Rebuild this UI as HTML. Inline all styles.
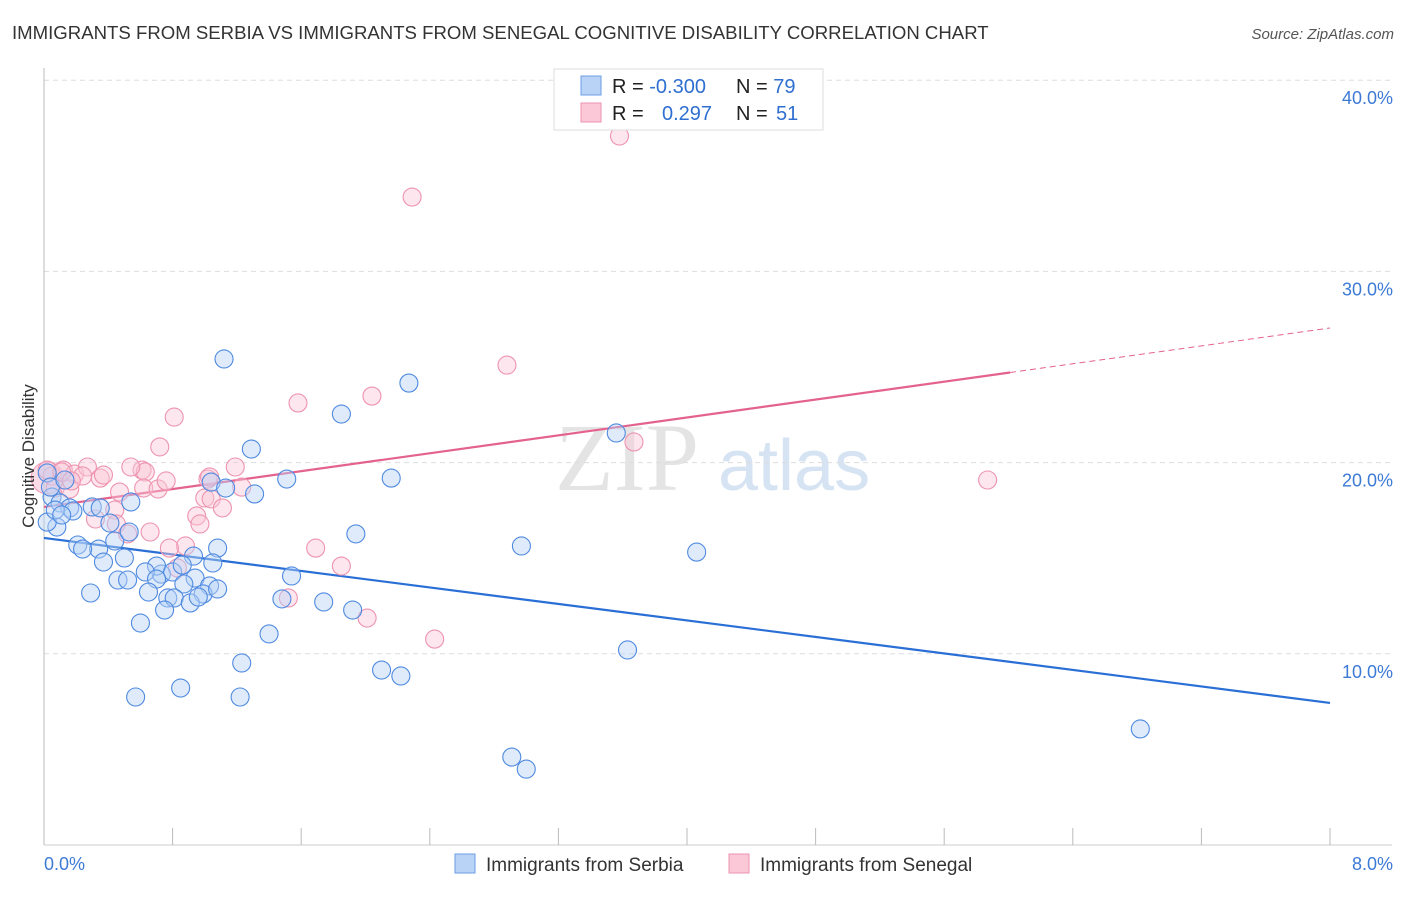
<!DOCTYPE html>
<html><head><meta charset="utf-8"><style>
body{margin:0;background:#fff;font-family:"Liberation Sans",sans-serif;}
</style></head><body>
<svg id="chart" width="1406" height="892" xmlns="http://www.w3.org/2000/svg" font-family="Liberation Sans, sans-serif">
<text x="12" y="39" font-size="18.6" fill="#333">IMMIGRANTS FROM SERBIA VS IMMIGRANTS FROM SENEGAL COGNITIVE DISABILITY CORRELATION CHART</text>
<text x="1394" y="39" font-size="15" fill="#555" text-anchor="end" font-style="italic">Source: ZipAtlas.com</text>
<text x="555" y="490" font-size="96" fill="#e4e4e4" font-family="Liberation Serif, serif">ZIP</text>
<text x="718" y="490" font-size="72" fill="#d6e3f3">atlas</text>
<g id="grid"></g><g id="axes"></g><g id="trends"></g><g id="pts"></g>
<text transform="translate(34,456) rotate(-90)" font-size="17" fill="#333" text-anchor="middle">Cognitive Disability</text>
<text x="44" y="870" font-size="18" fill="#3d7ad6">0.0%</text>
<text x="1393" y="870" font-size="18" fill="#3d7ad6" text-anchor="end">8.0%</text>
<g>
<rect x="554" y="69" width="269" height="61" fill="#fff" stroke="#ddd"/>
<rect x="581" y="76" width="20" height="19" fill="#b9d3f6" stroke="#6d9ee6"/>
<rect x="581" y="103" width="20" height="19" fill="#fbc8d7" stroke="#ee93b0"/>
<text x="612" y="93" font-size="20" fill="#222">R = <tspan fill="#2f6fd0">-0.300</tspan></text>
<text x="736" y="93" font-size="20" fill="#222">N = <tspan fill="#2f6fd0">79</tspan></text>
<text x="612" y="120" font-size="20" fill="#222">R = </text><text x="662" y="120" font-size="20" fill="#2f6fd0">0.297</text>
<text x="736" y="120" font-size="20" fill="#222">N = </text><text x="776" y="120" font-size="20" fill="#2f6fd0">51</text>
</g>
<g><rect x="455" y="854" width="20" height="19" fill="#b9d3f6" stroke="#6d9ee6"/><text x="486" y="871" font-size="19" fill="#333">Immigrants from Serbia</text></g>
<g><rect x="729" y="854" width="20" height="19" fill="#fbc8d7" stroke="#ee93b0"/><text x="760" y="871" font-size="19" fill="#333">Immigrants from Senegal</text></g>
</svg>
<script>
const yTicks=[10,20,30,40];
const xTickVals=[0,0.8,1.6,2.4,3.2,4.0,4.8,5.6,6.4,7.2,8.0];
const serbiaX=[1.12,2.27,1.85,3.56,1.29,2.16,1.51,1.04,1.31,1.13,0.05,0.10,0.16,0.18,0.30,0.54,0.41,0.08,0.02,1.94,2.97,4.06,0.21,0.34,0.24,0.44,0.53,0.37,0.50,1.08,0.93,1.05,0.73,0.70,0.63,0.80,0.86,0.70,0.46,0.52,0.94,1.54,0.87,1.03,0.65,0.77,0.99,1.08,0.29,0.81,0.75,0.91,0.96,1.48,1.74,1.92,0.60,1.40,3.63,1.23,2.10,2.22,0.85,0.57,1.22,6.82,2.91,3.00,0.02,0.04,0.07,0.11,0.35,0.13];
const serbiaY=[25.42,24.16,22.54,21.55,20.71,19.19,19.14,18.98,18.36,18.67,18.20,17.89,17.63,17.47,17.68,17.94,16.84,16.63,16.89,16.27,15.64,15.32,15.69,15.48,15.48,15.90,16.37,14.80,15.01,15.53,15.11,14.75,14.17,14.59,14.28,14.28,14.64,13.91,13.86,13.86,13.96,14.07,13.65,13.55,13.23,12.92,13.13,13.39,13.18,12.92,12.29,12.66,12.97,12.87,12.71,12.29,11.61,11.04,10.20,9.52,9.15,8.84,8.21,7.74,7.74,6.07,4.60,3.97,19.46,18.72,17.52,17.26,17.63,19.09];
const senegalX=[3.58,2.29,2.88,2.04,1.58,0.81,3.67,0.72,5.87,0.05,0.02,0.12,0.19,0.27,0.35,0.37,0.61,0.63,0.54,0.07,0.16,0.47,0.62,0.71,0.76,1.19,1.02,1.23,1.00,1.04,1.11,0.44,0.95,0.97,0.32,0.45,0.52,0.66,0.88,0.78,1.69,1.85,0.83,1.52,2.01,2.43,0.11,0.24,0.17,1.03];
const senegalY=[37.08,33.89,25.10,23.48,23.12,22.38,21.08,20.82,19.09,19.30,19.61,19.61,19.40,19.77,19.19,19.35,19.61,19.51,19.77,18.67,18.62,18.46,18.67,18.62,19.04,19.77,19.14,18.72,18.15,18.10,17.63,17.52,17.21,16.79,17.05,16.79,16.27,16.37,15.64,15.53,15.53,14.59,14.49,12.92,11.87,10.77,19.51,19.30,19.04,19.25];
const serbiaTrend=[16.06,7.43];
const senegalTrend=[17.68,27.04];
const senegalSolidEnd=6.01;
const X=v=>44+v/8*1286, Y=v=>845-v*19.12;
const NS='http://www.w3.org/2000/svg';
function mk(p,t,a){const e=document.createElementNS(NS,t);for(const k in a)e.setAttribute(k,a[k]);document.getElementById(p).appendChild(e);return e;}
yTicks.forEach(t=>{
 const l=mk('grid','line',{x1:44,x2:1392,y1:Y(t),y2:Y(t),stroke:'#ddd','stroke-dasharray':'5,4'});
 
 
 const tx=mk('grid','text',{x:1393,y:Y(t)+24,'font-size':18,fill:'#3d7ad6','text-anchor':'end'});tx.textContent=t.toFixed(1)+'%';
 
 
});
const ax=mk('axes','line',{x1:44,x2:44,y1:68,y2:845,stroke:'#bbb'});


const bx=mk('axes','line',{x1:44,x2:1392,y1:845,y2:845,stroke:'#ccc'});


xTickVals.forEach(t=>{const l=mk('axes','line',{x1:X(t),x2:X(t),y1:828,y2:845,stroke:'#bbb'});
 
 });
function pts(xs,ys,fill,stroke,name){xs.forEach((x,i)=>{const c=mk('pts','circle',{cx:X(x),cy:Y(ys[i]),r:9,fill:fill,'fill-opacity':0.45,stroke:stroke,'stroke-width':1.1});
 
 });}
const b1=mk('pts','circle',{cx:X(0.02),cy:Y(19.2),r:16,fill:'#f7b8cb','fill-opacity':0.5,stroke:'#ee93b0'});


pts(senegalX,senegalY,'#fbc8d7','#ee93b0','senegal-point');
pts(serbiaX,serbiaY,'#b9d3f6','#4f8ae0','serbia-point');
const t1=mk('trends','line',{x1:X(0),y1:Y(serbiaTrend[0]),x2:X(8),y2:Y(serbiaTrend[1]),stroke:'#2a6fd6','stroke-width':2.2});


const slope=(senegalTrend[1]-senegalTrend[0])/8;
const t2=mk('trends','line',{x1:X(0),y1:Y(senegalTrend[0]),x2:X(senegalSolidEnd),y2:Y(senegalTrend[0]+slope*senegalSolidEnd),stroke:'#e4628e','stroke-width':2.2});


const t3=mk('trends','line',{x1:X(senegalSolidEnd),y1:Y(senegalTrend[0]+slope*senegalSolidEnd),x2:X(8),y2:Y(senegalTrend[1]),stroke:'#e4628e','stroke-width':1,'stroke-dasharray':'6,4'});


</script>
</body></html>
